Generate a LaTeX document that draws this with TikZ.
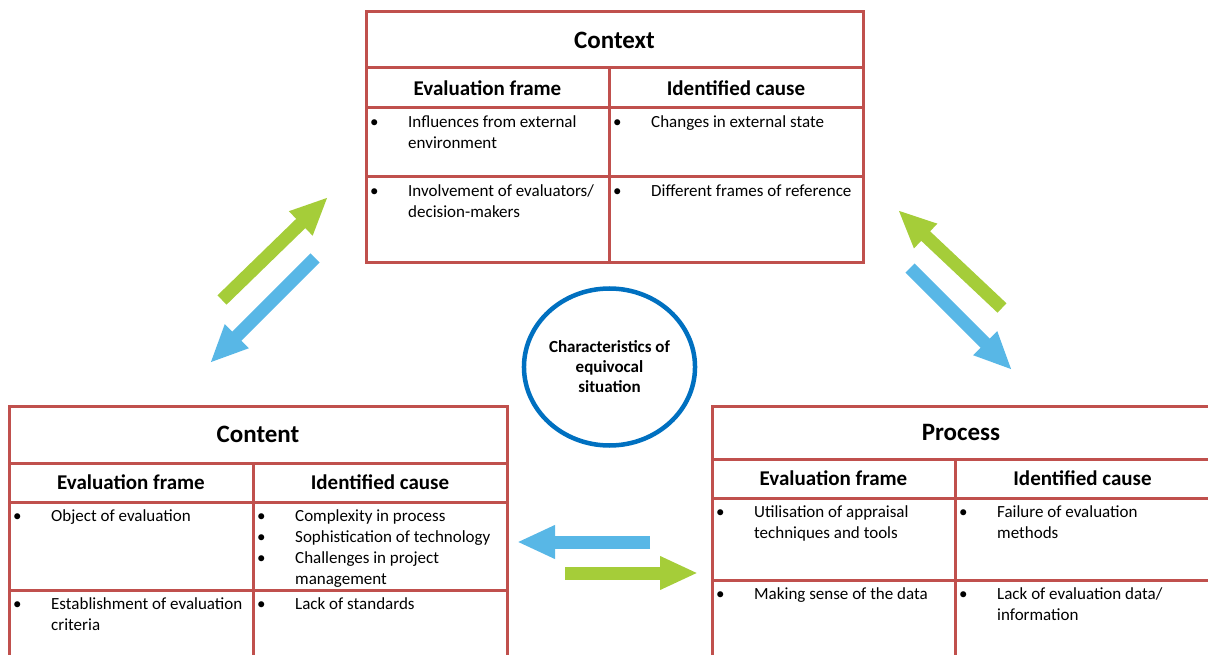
\documentclass[tikz,border=0pt]{standalone}
\usepackage{fontspec}
\setmainfont{Carlito}
\usetikzlibrary{positioning,arrows.meta,shapes.geometric}
\definecolor{cellred}{HTML}{C0504D}
\definecolor{arrowgreen}{HTML}{A5CD39}
\definecolor{arrowblue}{HTML}{58B7E6}
\definecolor{ringblue}{HTML}{0070C0}
\newcommand{\itemrows}[1]{\begin{tabular}{@{}p{38pt}@{}l@{}}#1\end{tabular}}

\begin{document}
\begin{tikzpicture}[x=1pt,y=-1pt,
   tablecell/.style={draw=cellred,line width=3pt,anchor=north west,inner sep=0pt,outer sep=0pt},
   tabletitle/.style={tablecell,font=\fontsize{25}{30}\selectfont\bfseries},
   tablehead/.style={tablecell,font=\fontsize{21}{25}\selectfont\bfseries},
   celltext/.style={anchor=north west,inner sep=0pt,font=\fontsize{17}{21}\selectfont},
   blockarrow/.style={line width=13pt,-{Triangle[length=38pt,width=31pt]}}]
\useasboundingbox (0,0) rectangle (1208,655);

\node[tabletitle,minimum width=497pt,minimum height=56pt] (ctx) at (366,12) {Context};
\node[tablehead,minimum width=243pt,minimum height=40pt] (ctx-frame) at (366,68) {Evaluation frame};
\node[tablehead,minimum width=254pt,minimum height=40pt] (ctx-cause) at (609,68) {Identified cause};
\node[tablecell,minimum width=243pt,minimum height=69pt] (ctx-f1) at (366,108) {};
\node[tablecell,minimum width=254pt,minimum height=69pt] (ctx-c1) at (609,108) {};
\node[tablecell,minimum width=243pt,minimum height=86pt] (ctx-f2) at (366,177) {};
\node[tablecell,minimum width=254pt,minimum height=86pt] (ctx-c2) at (609,177) {};
\node[celltext,below right=5pt and 4pt of ctx-f1.north west] {\itemrows{\textbullet & Influences from external\\ & environment}};
\node[celltext,below right=5pt and 4pt of ctx-c1.north west] {\itemrows{\textbullet & Changes in external state}};
\node[celltext,below right=5pt and 4pt of ctx-f2.north west] {\itemrows{\textbullet & Involvement of evaluators/\\ & decision-makers}};
\node[celltext,below right=5pt and 4pt of ctx-c2.north west] {\itemrows{\textbullet & Different frames of reference}};

\node[tabletitle,minimum width=498pt,minimum height=57pt] (cnt) at (9,406) {Content};
\node[tablehead,minimum width=244pt,minimum height=39pt] (cnt-frame) at (9,463) {Evaluation frame};
\node[tablehead,minimum width=254pt,minimum height=39pt] (cnt-cause) at (253,463) {Identified cause};
\node[tablecell,minimum width=244pt,minimum height=88pt] (cnt-f1) at (9,502) {};
\node[tablecell,minimum width=254pt,minimum height=88pt] (cnt-c1) at (253,502) {};
\node[tablecell,minimum width=244pt,minimum height=95pt] (cnt-f2) at (9,590) {};
\node[tablecell,minimum width=254pt,minimum height=95pt] (cnt-c2) at (253,590) {};
\node[celltext,below right=5pt and 4pt of cnt-f1.north west] {\itemrows{\textbullet & Object of evaluation}};
\node[celltext,below right=5pt and 4pt of cnt-c1.north west] {\itemrows{\textbullet & Complexity in process\\ \textbullet & Sophistication of technology\\ \textbullet & Challenges in project\\ & management}};
\node[celltext,below right=5pt and 4pt of cnt-f2.north west] {\itemrows{\textbullet & Establishment of evaluation\\ & criteria}};
\node[celltext,below right=5pt and 4pt of cnt-c2.north west] {\itemrows{\textbullet & Lack of standards}};

\node[tabletitle,minimum width=498pt,minimum height=53pt] (prc) at (712,406) {Process};
\node[tablehead,minimum width=243pt,minimum height=39pt] (prc-frame) at (712,459) {Evaluation frame};
\node[tablehead,minimum width=255pt,minimum height=39pt] (prc-cause) at (955,459) {Identified cause};
\node[tablecell,minimum width=243pt,minimum height=82pt] (prc-f1) at (712,498) {};
\node[tablecell,minimum width=255pt,minimum height=82pt] (prc-c1) at (955,498) {};
\node[tablecell,minimum width=243pt,minimum height=100pt] (prc-f2) at (712,580) {};
\node[tablecell,minimum width=255pt,minimum height=100pt] (prc-c2) at (955,580) {};
\node[celltext,below right=5pt and 4pt of prc-f1.north west] {\itemrows{\textbullet & Utilisation of appraisal\\ & techniques and tools}};
\node[celltext,below right=5pt and 4pt of prc-c1.north west] {\itemrows{\textbullet & Failure of evaluation\\ & methods}};
\node[celltext,below right=5pt and 4pt of prc-f2.north west] {\itemrows{\textbullet & Making sense of the data}};
\node[celltext,below right=5pt and 4pt of prc-c2.north west] {\itemrows{\textbullet & Lack of evaluation data/\\ & information}};

\node[ellipse,draw=ringblue,line width=4.5pt,inner sep=0pt,minimum width=170pt,minimum height=157pt,align=center,
   font=\fontsize{17}{20}\selectfont\bfseries] (equiv) at (609.5,367) {Characteristics of\\equivocal\\situation};

\coordinate (ctx-cnt-tail) at (222,300);
\coordinate (ctx-cnt-tip) at (328,197);
\coordinate (cnt-ctx-tail) at (315,258);
\coordinate (cnt-ctx-tip) at (210,363);
\coordinate (prc-ctx-tail) at (1002,308);
\coordinate (prc-ctx-tip) at (898,210);
\coordinate (ctx-prc-tail) at (910,268);
\coordinate (ctx-prc-tip) at (1012,370);
\coordinate (prc-cnt-tail) at (650,542);
\coordinate (prc-cnt-tip) at (517,542);
\coordinate (cnt-prc-tail) at (565,573);
\coordinate (cnt-prc-tip) at (698,573);
\draw[blockarrow,arrowgreen] (ctx-cnt-tail) -- (ctx-cnt-tip);
\draw[blockarrow,arrowblue] (cnt-ctx-tail) -- (cnt-ctx-tip);
\draw[blockarrow,arrowgreen] (prc-ctx-tail) -- (prc-ctx-tip);
\draw[blockarrow,arrowblue] (ctx-prc-tail) -- (ctx-prc-tip);
\draw[blockarrow,arrowblue] (prc-cnt-tail) -- (prc-cnt-tip);
\draw[blockarrow,arrowgreen] (cnt-prc-tail) -- (cnt-prc-tip);
\end{tikzpicture}
\end{document}
